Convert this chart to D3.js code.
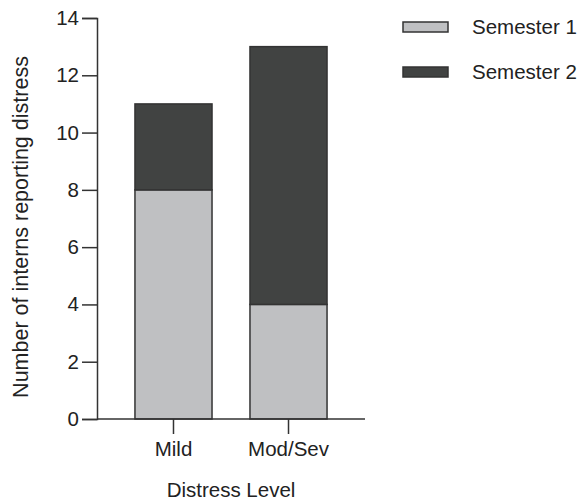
<!DOCTYPE html>
<html>
<head>
<meta charset="utf-8">
<script src="https://cdn.jsdelivr.net/npm/d3@7"></script>
<style>
  body { margin: 0; background: #fff; }
  text { font-family: "Liberation Sans", Arial, sans-serif; fill: #222; }
</style>
</head>
<body>
<svg id="chart" width="579" height="501"></svg>
<script>
// data
var categories = ['Mild', 'Mod/Sev'];
var series = ['Semester 1', 'Semester 2'];
var semester1 = [8, 4];
var semester2 = [3, 9];
var yTicks = [0, 2, 4, 6, 8, 10, 12, 14];
var colors = ['#bfc0c2', '#414342'];

var svg = d3.select('#chart');
var axisColor = '#333';
var fontSize = '20.5px';

var x = d3.scaleBand()
  .domain(categories)
  .range([97, 365])
  .paddingInner(0.33)
  .paddingOuter(0.33);

var y = d3.scaleLinear()
  .domain([0, 14])
  .range([419, 18]);

var rows = categories.map(function(c, i) {
  return { cat: c, 'Semester 1': semester1[i], 'Semester 2': semester2[i] };
});
var stacked = d3.stack().keys(series)(rows);

// bars
svg.append('g').selectAll('g')
  .data(stacked)
  .join('g')
  .attr('fill', function(d, i) { return colors[i]; })
  .selectAll('rect')
  .data(function(d) { return d; })
  .join('rect')
  .attr('x', function(d) { return x(d.data.cat); })
  .attr('y', function(d) { return y(d[1]); })
  .attr('width', x.bandwidth())
  .attr('height', function(d) { return y(d[0]) - y(d[1]); })
  .attr('stroke', axisColor)
  .attr('stroke-width', 1.5);

// y axis
var yAxis = svg.append('g')
  .attr('transform', 'translate(97,0)')
  .call(d3.axisLeft(y).tickValues(yTicks).tickSize(15).tickPadding(3));

// x axis
var xAxis = svg.append('g')
  .attr('transform', 'translate(0,419)')
  .call(d3.axisBottom(x).tickSize(15).tickPadding(7).tickSizeOuter(0));

[yAxis, xAxis].forEach(function(a) {
  a.attr('font-size', null).attr('font-family', null);
  a.select('.domain').attr('stroke', axisColor).attr('stroke-width', 1.5);
  a.selectAll('.tick line').attr('stroke', axisColor).attr('stroke-width', 1.5);
  a.selectAll('.tick text')
    .attr('fill', '#222')
    .style('font-size', fontSize);
});
// baseline starts at the y axis
xAxis.select('.domain').attr('d', 'M97,0H365');

// axis titles
svg.append('text')
  .attr('transform', 'translate(28,227) rotate(-90)')
  .attr('text-anchor', 'middle')
  .style('font-size', '21.5px')
  .text('Number of interns reporting distress');

svg.append('text')
  .attr('x', 231)
  .attr('y', 497)
  .attr('text-anchor', 'middle')
  .style('font-size', fontSize)
  .text('Distress Level');

// legend
var legend = svg.append('g').selectAll('g')
  .data(series)
  .join('g')
  .attr('transform', function(d, i) { return 'translate(403,' + (22 + i * 45) + ')'; });

legend.append('rect')
  .attr('width', 45)
  .attr('height', 10)
  .attr('fill', function(d, i) { return colors[i]; })
  .attr('stroke', axisColor)
  .attr('stroke-width', 1.5);

legend.append('text')
  .attr('x', 69)
  .attr('y', 5)
  .attr('dy', '0.35em')
  .style('font-size', fontSize)
  .text(function(d) { return d; });
</script>
</body>
</html>
